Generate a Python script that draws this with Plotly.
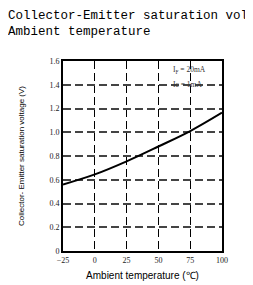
import plotly.graph_objects as go

temps = [-25, 0, 25, 50, 75, 100]
vce_sat = [0.56, 0.645, 0.755, 0.88, 1.01, 1.165]
x_ticks = [-25, 0, 25, 50, 75, 100]
y_ticks = [0, 0.2, 0.4, 0.6, 0.8, 1.0, 1.2, 1.4, 1.6]
y_tick_text = ["0", "0.2", "0.4", "0.6", "0.8", "1.0", "1.2", "1.4", "1.6"]
title_lines = ["Collector-Emitter saturation voltage", "Ambient temperature"]
cond_lines = ["I<sub>F</sub> = 20mA", "Ic = 1mA"]

fig = go.Figure()
fig.add_trace(go.Scatter(x=temps, y=vce_sat, mode="lines", line=dict(color="black", width=2, shape="spline"),
                         showlegend=False, hoverinfo="skip"))

ann = []
for txt, yy in zip(cond_lines, [0.952, 0.876]):
    ann.append(dict(x=0.68, y=yy, xref="paper", yref="paper", xanchor="left", yanchor="middle",
                    text=txt, showarrow=False, font=dict(family="Liberation Serif", size=7.5, color="#333")))

fig.update_layout(
    width=253, height=285,
    margin=dict(l=46, r=39, t=53, b=42),
    paper_bgcolor="white", plot_bgcolor="white",
    title=dict(text="<br>".join(title_lines), x=0.0, xref="container", xanchor="left",
               y=0.961, yref="container", yanchor="middle",
               font=dict(family="Liberation Mono", size=12.5, color="black")),
    annotations=ann,
)
fig.update_xaxes(range=[-25, 100], tickvals=x_ticks, ticks="", showline=True, linecolor="black",
                 linewidth=2, mirror=True, showgrid=True, gridcolor="black", gridwidth=1, griddash="8px,4px",
                 zeroline=False, tickfont=dict(family="Liberation Serif", size=8, color="#222"),
                 title=dict(text="Ambient temperature (℃)", standoff=8,
                            font=dict(family="Liberation Sans", size=10, color="black")))
fig.update_yaxes(range=[0, 1.6], tickvals=y_ticks, ticktext=y_tick_text, ticks="", showline=True,
                 linecolor="black", linewidth=2, mirror=True, showgrid=True, gridcolor="#444",
                 gridwidth=1.5, griddash="8px,4px", zeroline=False,
                 tickfont=dict(family="Liberation Serif", size=8, color="#222"),
                 title=dict(text="Collector- Emitter saturation voltage (V)", standoff=24,
                            font=dict(family="Liberation Sans", size=8, color="black")))

fig.write_html("out.html")
